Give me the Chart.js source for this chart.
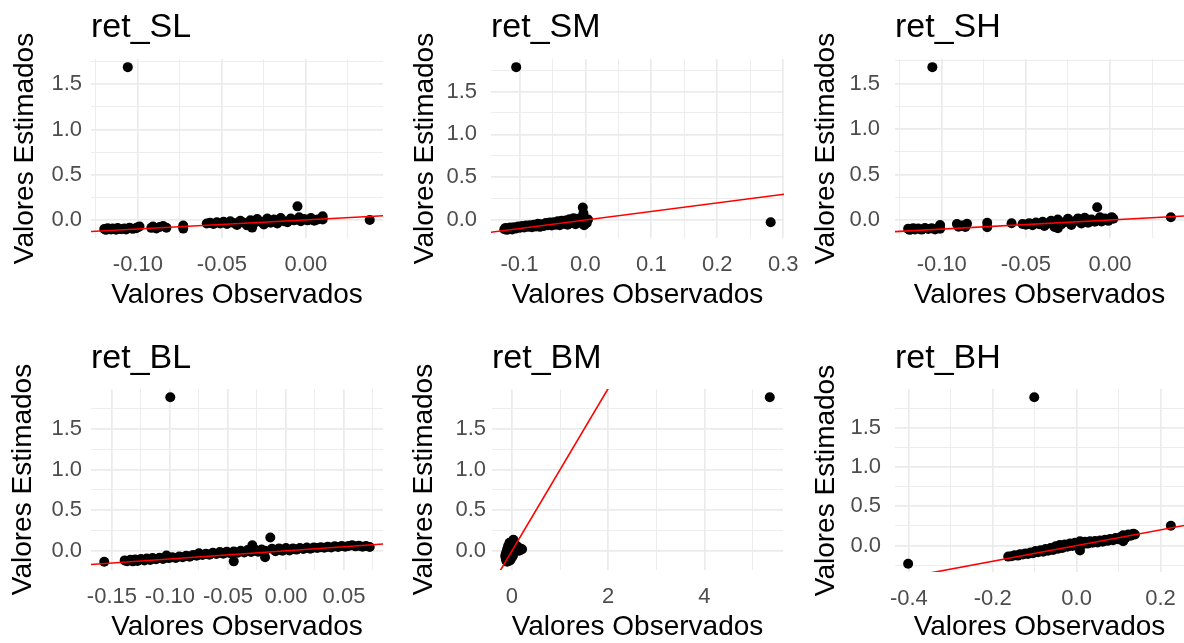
<!DOCTYPE html>
<html>
<head>
<meta charset="utf-8">
<script src="https://cdn.jsdelivr.net/npm/chart.js@4.4.1/dist/chart.umd.min.js"></script>
<style>
  html, body { margin: 0; padding: 0; background: #fff; }
  #wrap { position: relative; width: 1184px; height: 643px; overflow: hidden; background: #fff; }
  #wrap canvas { position: absolute; }
</style>
</head>
<body>
<div id="wrap"></div>
<script>
const FONT = "'Liberation Sans', Arial, Helvetica, sans-serif";

const panelNames = ['ret_SL', 'ret_SM', 'ret_SH', 'ret_BL', 'ret_BM', 'ret_BH'];

// same y breaks on every panel
const yTicks = [0, 0.5, 1, 1.5];
const yLabels = ['0.0', '0.5', '1.0', '1.5'];

const slXTicks = [-0.10, -0.05, 0.00];
const slXLabels = ['-0.10', '-0.05', '0.00'];
const smXTicks = [-0.1, 0, 0.1, 0.2, 0.3];
const smXLabels = ['-0.1', '0.0', '0.1', '0.2', '0.3'];
const shXTicks = [-0.10, -0.05, 0.00];
const shXLabels = ['-0.10', '-0.05', '0.00'];
const blXTicks = [-0.15, -0.10, -0.05, 0.00, 0.05];
const blXLabels = ['-0.15', '-0.10', '-0.05', '0.00', '0.05'];
const bmXTicks = [0, 2, 4];
const bmXLabels = ['0', '2', '4'];
const bhXTicks = [-0.4, -0.2, 0, 0.2];
const bhXLabels = ['-0.4', '-0.2', '0.0', '0.2'];

const slObs = [-0.120, -0.119, -0.118, -0.116, -0.115, -0.113, -0.112, -0.110, -0.108, -0.107, -0.105, -0.103, -0.101, -0.100, -0.099,
  -0.092, -0.091, -0.089, -0.087, -0.085, -0.083, -0.073, -0.073,
  -0.059, -0.057, -0.055, -0.053, -0.051, -0.049, -0.047, -0.045, -0.043, -0.041, -0.039, -0.037, -0.035, -0.033, -0.032,
  -0.031, -0.029, -0.027, -0.025, -0.023, -0.021, -0.019, -0.017, -0.015, -0.013, -0.011, -0.009, -0.007, -0.005, -0.004,
  -0.003, -0.001, 0.001, 0.003, 0.005, 0.007, 0.010, 0.010, 0.038, -0.106];
const slEst = [-0.100, -0.110, -0.092, -0.105, -0.096, -0.108, -0.090, -0.102, -0.094, -0.106, -0.088, -0.099, -0.092, -0.080, -0.072,
  -0.088, -0.074, -0.094, -0.079, -0.068, -0.086, -0.062, -0.096,
  -0.040, -0.030, -0.045, -0.025, -0.040, -0.020, -0.045, -0.015, -0.035, -0.055, -0.010, -0.030, -0.060, -0.005, -0.085,
  -0.040, 0.010, -0.020, -0.050, 0.015, -0.030, 0.005, -0.040, 0.020, -0.015, -0.025, 0.015, -0.005, 0.150, 0.030,
  -0.015, 0.010, -0.005, 0.020, -0.010, 0.005, 0.040, 0.005, 0.000, 1.690];

const smObs = [-0.123, -0.121, -0.119, -0.117, -0.114, -0.111, -0.108, -0.105, -0.102, -0.099, -0.096, -0.093, -0.090, -0.087,
  -0.084, -0.081, -0.078, -0.075, -0.072, -0.069, -0.066, -0.063, -0.060, -0.057, -0.054, -0.051, -0.048, -0.045, -0.042,
  -0.039, -0.036, -0.033, -0.030, -0.027, -0.024, -0.021, -0.018, -0.015, -0.012, -0.009, -0.006, -0.004, -0.003, -0.002,
  0.000, 0.002, 0.004, 0.281, -0.105];
const smEst = [-0.108, -0.092, -0.115, -0.100, -0.088, -0.110, -0.085, -0.098, -0.075, -0.090, -0.070, -0.088, -0.065, -0.080,
  -0.060, -0.085, -0.055, -0.075, -0.045, -0.080, -0.050, -0.070, -0.035, -0.060, -0.030, -0.065, -0.025, -0.055, -0.015,
  -0.060, -0.010, -0.045, -0.005, -0.055, 0.010, -0.035, 0.020, -0.050, 0.015, -0.030, 0.025, 0.147, 0.080, -0.060,
  0.010, -0.035, 0.005, -0.027, 1.785];

const shObs = [-0.120, -0.119, -0.117, -0.116, -0.114, -0.112, -0.110, -0.108, -0.106, -0.104, -0.102, -0.101, -0.101,
  -0.091, -0.090, -0.088, -0.086, -0.085, -0.073, -0.073, -0.0585,
  -0.052, -0.050, -0.048, -0.046, -0.044, -0.042, -0.040, -0.039, -0.037, -0.035, -0.033, -0.031, -0.031, -0.029, -0.027,
  -0.025, -0.023, -0.021, -0.019, -0.017, -0.015, -0.013, -0.011, -0.009, -0.0076, -0.006, -0.005, -0.003, -0.001, 0.001, 0.002,
  0.0362, -0.1056];
const shEst = [-0.098, -0.109, -0.090, -0.104, -0.094, -0.106, -0.088, -0.100, -0.092, -0.104, -0.086, -0.055, -0.096,
  -0.045, -0.075, -0.060, -0.078, -0.042, -0.031, -0.079, -0.037,
  -0.045, -0.052, -0.035, -0.058, -0.028, -0.048, -0.020, -0.066, -0.038, -0.010, -0.078, -0.090, 0.004, -0.050, -0.025,
  0.012, -0.055, -0.015, 0.017, -0.040, 0.024, -0.030, 0.005, -0.020, 0.140, 0.030, -0.017, 0.015, -0.010, 0.031, 0.013,
  0.030, 1.680];

const blObs = [-0.1566,
  -0.139, -0.137, -0.134, -0.132, -0.130, -0.128, -0.125, -0.122, -0.120, -0.117, -0.115, -0.112, -0.109, -0.106, -0.103,
  -0.101, -0.098, -0.095, -0.092, -0.089, -0.086, -0.083, -0.080, -0.077, -0.075, -0.072, -0.069, -0.066, -0.063, -0.060,
  -0.057, -0.054, -0.051, -0.048, -0.045, -0.045, -0.042, -0.039, -0.036, -0.033, -0.030, -0.029, -0.027, -0.024, -0.021,
  -0.018, -0.018, -0.0135, -0.012, -0.009, -0.006, -0.003, 0.000, 0.003, 0.006, 0.009, 0.012, 0.015, 0.018, 0.021,
  0.024, 0.027, 0.030, 0.033, 0.036, 0.039, 0.042, 0.045, 0.048, 0.051, 0.054, 0.057, 0.060, 0.063, 0.066, 0.069, 0.0722,
  -0.0997];
const blEst = [-0.135,
  -0.118, -0.128, -0.110, -0.130, -0.108, -0.126, -0.100, -0.118, -0.095, -0.113, -0.090, -0.105, -0.085, -0.100, -0.058,
  -0.090, -0.078, -0.088, -0.070, -0.080, -0.062, -0.072, -0.050, -0.060, -0.030, -0.052, -0.035, -0.048, -0.025, -0.040,
  -0.015, -0.035, -0.010, -0.030, -0.130, -0.008, -0.025, 0.000, -0.020, 0.010, -0.015, 0.068, 0.020, -0.010, 0.015,
  -0.080, 0.000, 0.164, 0.025, -0.005, 0.030, 0.000, 0.035, 0.005, 0.030, 0.015, 0.035, 0.022, 0.040, 0.025,
  0.042, 0.035, 0.045, 0.038, 0.050, 0.042, 0.055, 0.048, 0.058, 0.050, 0.060, 0.068, 0.055, 0.062, 0.050, 0.058, 0.048,
  1.893];

const bmObs = [-0.10, -0.12, -0.08, -0.13, -0.06, -0.14, -0.10, -0.05, -0.12, -0.07, -0.03, -0.10, -0.05, -0.01, -0.08,
  -0.03, 0.02, -0.05, 0.00, 0.03, 0.05, 0.07, 0.10, 0.13, 0.17, 0.21, 0.15, 0.09, 0.05, 0.02, -0.01, -0.04, 5.36];
const bmEst = [-0.135, -0.12, -0.11, -0.09, -0.09, -0.06, -0.05, -0.05, -0.02, -0.01, -0.02, 0.02, 0.03, 0.01, 0.06,
  0.07, 0.05, 0.10, 0.11, 0.137, 0.09, 0.05, 0.06, 0.04, 0.03, 0.02, 0.00, 0.01, -0.02, -0.06, -0.09, -0.12, 1.893];

const bhObs = [-0.163, -0.155, -0.148, -0.140, -0.135, -0.128, -0.122, -0.116, -0.110, -0.104, -0.098, -0.092, -0.086,
  -0.080, -0.074, -0.068, -0.062, -0.056, -0.050, -0.044, -0.040, -0.034, -0.028, -0.022, -0.016, -0.010, -0.004, 0.002,
  0.008, 0.008, 0.014, 0.020, 0.026, 0.032, 0.038, 0.044, 0.050, 0.056, 0.062, 0.068, 0.074, 0.080, 0.087, 0.093, 0.099,
  0.105, 0.111, 0.111, 0.117, 0.123, 0.129, 0.135, 0.139, -0.4017, 0.2247, -0.101];
const bhEst = [-0.141, -0.135, -0.125, -0.128, -0.110, -0.115, -0.100, -0.108, -0.090, -0.098, -0.070, -0.085, -0.060,
  -0.078, -0.045, -0.065, -0.030, -0.055, -0.010, -0.040, 0.008, -0.030, 0.015, -0.015, 0.025, -0.005, 0.035, 0.000,
  -0.062, 0.055, 0.015, 0.050, 0.025, 0.055, 0.035, 0.058, 0.040, 0.065, 0.050, 0.075, 0.060, 0.085, 0.068, 0.095, 0.080,
  0.110, 0.055, 0.130, 0.100, 0.140, 0.125, 0.152, 0.140, -0.231, 0.253, 1.89];

const panels = [
  { obs: slObs, est: slEst, xTicks: slXTicks, xLabels: slXLabels },
  { obs: smObs, est: smEst, xTicks: smXTicks, xLabels: smXLabels },
  { obs: shObs, est: shEst, xTicks: shXTicks, xLabels: shXLabels },
  { obs: blObs, est: blEst, xTicks: blXTicks, xLabels: blXLabels },
  { obs: bmObs, est: bmEst, xTicks: bmXTicks, xLabels: bmXLabels },
  { obs: bhObs, est: bhEst, xTicks: bhXTicks, xLabels: bhXLabels }
];

// where each panel sits on the page (canvas box + plotting area)
const frames = [
  { x: 0,   y: 0,   w: 420, h: 320, area: [91, 59, 383, 238],   yTickPad: 9,  yTitlePad: 11, xTitlePad: 11, titleBase: 37 },
  { x: 395, y: 0,   w: 420, h: 320, area: [491, 59, 784, 238],  yTickPad: 14, yTitlePad: 16, xTitlePad: 11, titleBase: 37 },
  { x: 790, y: 0,   w: 394, h: 320, area: [895, 59, 1184, 238], yTickPad: 15, yTitlePad: 22, xTitlePad: 11, titleBase: 37 },
  { x: 0,   y: 320, w: 420, h: 323, area: [91, 389, 383, 570],  yTickPad: 9,  yTitlePad: 9,  xTitlePad: 2,  titleBase: 368 },
  { x: 395, y: 320, w: 420, h: 323, area: [492, 389, 783, 570], yTickPad: 6,  yTitlePad: 15, xTitlePad: 2,  titleBase: 368 },
  { x: 790, y: 320, w: 394, h: 323, area: [895, 389, 1184, 572], yTickPad: 14, yTitlePad: 22, xTitlePad: 2,  titleBase: 368 }
];

// ggplot style limits: data range plus 5% each side
function expandRange(values) {
  const lo = Math.min(...values), hi = Math.max(...values);
  const pad = (hi - lo) * 0.05;
  return [lo - pad, hi + pad];
}

// major breaks plus the minor ones half way between
function gridValues(major, lo, hi) {
  const step = major[1] - major[0];
  const out = [];
  for (let v = major[0] - step / 2; v <= major[major.length - 1] + step / 2 + 1e-9; v += step / 2) {
    const r = Math.round(v * 1e6) / 1e6;
    if (r >= lo && r <= hi) out.push(r);
  }
  return out;
}

function labelFor(major, labels, v) {
  const i = major.findIndex(m => Math.abs(m - v) < 1e-9);
  return i >= 0 ? labels[i] : '';
}

function axisOptions(major, labels, range, text, isX, frame) {
  const all = gridValues(major, range[0], range[1]);
  return {
    type: 'linear',
    position: isX ? 'bottom' : 'left',
    min: range[0],
    max: range[1],
    afterBuildTicks: s => { s.ticks = all.map(v => ({ value: v })); },
    afterFit: s => {
      if (isX) {
        s.height = frame.y + frame.h - frame.area[3];
        s.paddingLeft = 0;
        s.paddingRight = 0;
      } else {
        s.width = frame.area[0] - frame.x;
        s.paddingTop = 0;
        s.paddingBottom = 0;
      }
    },
    grid: {
      color: '#EBEBEB',
      drawTicks: false,
      lineWidth: c => (c.tick && labelFor(major, labels, c.tick.value) !== '' ? 1.7 : 0.9)
    },
    border: { display: false },
    ticks: {
      autoSkip: false,
      maxRotation: 0,
      minRotation: 0,
      padding: isX ? 14 : frame.yTickPad,
      color: '#4D4D4D',
      font: { family: FONT, size: 22 },
      callback: v => labelFor(major, labels, v)
    },
    title: {
      display: true,
      text: text,
      color: '#000',
      font: { family: FONT, size: 28, lineHeight: 1 },
      padding: isX ? { top: 0, bottom: frame.xTitlePad } : { top: frame.yTitlePad, bottom: 0 }
    }
  };
}

const panelTitle = {
  id: 'panelTitle',
  afterDraw(chart, args, opts) {
    const ctx = chart.ctx;
    ctx.save();
    ctx.font = '34px ' + FONT;
    ctx.fillStyle = '#000';
    ctx.textBaseline = 'alphabetic';
    ctx.textAlign = 'left';
    ctx.fillText(opts.text, chart.chartArea.left, opts.baseline);
    ctx.restore();
  }
};

const wrap = document.getElementById('wrap');

panels.forEach((p, i) => {
  const f = frames[i];
  const canvas = document.createElement('canvas');
  canvas.width = f.w;
  canvas.height = f.h;
  canvas.style.left = f.x + 'px';
  canvas.style.top = f.y + 'px';
  canvas.style.width = f.w + 'px';
  canvas.style.height = f.h + 'px';
  wrap.appendChild(canvas);

  const xRange = expandRange(p.obs);
  const yRange = expandRange(p.est);
  const lo = Math.min(xRange[0], yRange[0]);
  const hi = Math.max(xRange[1], yRange[1]);

  new Chart(canvas, {
    type: 'scatter',
    data: {
      datasets: [
        {
          type: 'line',
          data: [{ x: lo, y: lo }, { x: hi, y: hi }],
          borderColor: '#FF0000',
          borderWidth: 1.6,
          pointRadius: 0,
          fill: false,
          order: 0
        },
        {
          data: p.obs.map((x, k) => ({ x: x, y: p.est[k] })),
          pointRadius: 5,
          pointHoverRadius: 5,
          pointBackgroundColor: '#000',
          pointBorderWidth: 0,
          order: 1
        }
      ]
    },
    options: {
      responsive: false,
      animation: false,
      devicePixelRatio: 1,
      layout: {
        autoPadding: false,
        padding: { left: 0, bottom: 0, top: f.area[1] - f.y, right: f.x + f.w - f.area[2] }
      },
      scales: {
        x: axisOptions(p.xTicks, p.xLabels, xRange, 'Valores Observados', true, f),
        y: axisOptions(yTicks, yLabels, yRange, 'Valores Estimados', false, f)
      },
      plugins: {
        legend: { display: false },
        tooltip: { enabled: false },
        panelTitle: { text: panelNames[i], baseline: f.titleBase - f.y }
      }
    },
    plugins: [panelTitle]
  });
});
</script>
</body>
</html>
